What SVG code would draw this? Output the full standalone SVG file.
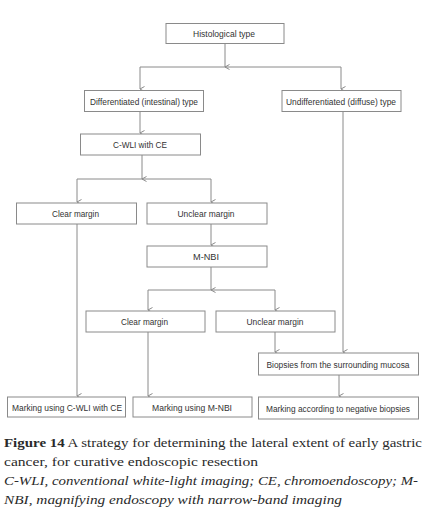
<svg xmlns="http://www.w3.org/2000/svg" width="428" height="522" viewBox="0 0 428 522">
<defs>
<style>
.box{fill:#fff;stroke:#8a8a8a;stroke-width:1}
.lbl{font-family:"Liberation Sans",Arial,sans-serif;font-size:9.5px;fill:#333;text-anchor:middle}
.sm{font-size:8.5px}
.ln{fill:none;stroke:#8a8a8a;stroke-width:1}
.cap{font-family:"Liberation Serif","Times New Roman",serif;font-size:13px;fill:#2a2a2a}
</style>
<marker id="arr" viewBox="0 0 8 8" refX="4" refY="7.5" markerWidth="8" markerHeight="8" markerUnits="userSpaceOnUse" orient="auto-start-reverse">
<polyline points="1.5,3 4,7.5 6.5,3" fill="none" stroke="#8a8a8a" stroke-width="1"/>
</marker>
</defs>
<rect width="428" height="522" fill="#fff"/>
<g id="connectors">
<line class="ln" x1="225" y1="43" x2="225" y2="67" marker-end="url(#arr)"/>
<polyline class="ln" points="140,67 341,67"/>
<line class="ln" x1="140" y1="67" x2="140" y2="89" marker-end="url(#arr)"/>
<line class="ln" x1="341" y1="67" x2="341" y2="89" marker-end="url(#arr)"/>
<line class="ln" x1="140" y1="112" x2="140" y2="133" marker-end="url(#arr)"/>
<line class="ln" x1="142" y1="155" x2="142" y2="179" marker-end="url(#arr)"/>
<polyline class="ln" points="77,179 211,179"/>
<line class="ln" x1="77" y1="179" x2="77" y2="202" marker-end="url(#arr)"/>
<line class="ln" x1="211" y1="179" x2="211" y2="202" marker-end="url(#arr)"/>
<line class="ln" x1="211" y1="224" x2="211" y2="245" marker-end="url(#arr)"/>
<line class="ln" x1="211" y1="267" x2="211" y2="290" marker-end="url(#arr)"/>
<polyline class="ln" points="148,290 275,290"/>
<line class="ln" x1="148" y1="290" x2="148" y2="310" marker-end="url(#arr)"/>
<line class="ln" x1="275" y1="290" x2="275" y2="310" marker-end="url(#arr)"/>
<line class="ln" x1="275" y1="332" x2="275" y2="352" marker-end="url(#arr)"/>
<line class="ln" x1="343" y1="112" x2="343" y2="352" marker-end="url(#arr)"/>
<line class="ln" x1="339" y1="375" x2="339" y2="396" marker-end="url(#arr)"/>
<line class="ln" x1="148" y1="332" x2="148" y2="396" marker-end="url(#arr)"/>
<line class="ln" x1="77" y1="224" x2="77" y2="396" marker-end="url(#arr)"/>
</g>
<g id="histological"><rect class="box" x="166" y="23.5" width="118" height="20"/><text class="lbl" x="224" y="37" textLength="62" lengthAdjust="spacingAndGlyphs">Histological type</text></g>
<g id="differentiated"><rect class="box" x="84.5" y="90.5" width="119" height="21"/><text class="lbl" x="144" y="104.5" textLength="108" lengthAdjust="spacingAndGlyphs">Differentiated (intestinal) type</text></g>
<g id="undifferentiated"><rect class="box" x="282" y="90.5" width="119" height="21"/><text class="lbl" x="341" y="104.5" textLength="110" lengthAdjust="spacingAndGlyphs">Undifferentiated (diffuse) type</text></g>
<g id="cwli"><rect class="box" x="80.5" y="134" width="120" height="21"/><text class="lbl" x="140" y="148" textLength="54" lengthAdjust="spacingAndGlyphs">C-WLI with CE</text></g>
<g id="clear1"><rect class="box" x="16.5" y="203" width="120" height="21"/><text class="lbl" x="75.5" y="217" textLength="47" lengthAdjust="spacingAndGlyphs">Clear margin</text></g>
<g id="unclear1"><rect class="box" x="147" y="203" width="120" height="21"/><text class="lbl" x="206" y="217" textLength="57" lengthAdjust="spacingAndGlyphs">Unclear margin</text></g>
<g id="mnbi"><rect class="box" x="147" y="246" width="120" height="21"/><text class="lbl" x="206" y="260" textLength="26" lengthAdjust="spacingAndGlyphs">M-NBI</text></g>
<g id="clear2"><rect class="box" x="86" y="311" width="119" height="21"/><text class="lbl" x="144.5" y="325" textLength="47" lengthAdjust="spacingAndGlyphs">Clear margin</text></g>
<g id="unclear2"><rect class="box" x="216" y="311" width="119" height="21"/><text class="lbl" x="275" y="325" textLength="57" lengthAdjust="spacingAndGlyphs">Unclear margin</text></g>
<g id="biopsies"><rect class="box" x="258.5" y="353" width="160" height="22"/><text class="lbl sm" x="338" y="367.5" textLength="143" lengthAdjust="spacingAndGlyphs">Biopsies from the surrounding mucosa</text></g>
<g id="mark-cwli"><rect class="box" x="7.5" y="397" width="118" height="20"/><text class="lbl" x="67" y="410.5" textLength="110" lengthAdjust="spacingAndGlyphs">Marking using C-WLI with CE</text></g>
<g id="mark-mnbi"><rect class="box" x="133" y="397" width="119" height="20"/><text class="lbl" x="192" y="410.5" textLength="80" lengthAdjust="spacingAndGlyphs">Marking using M-NBI</text></g>
<g id="mark-neg"><rect class="box" x="258.5" y="397" width="160" height="22"/><text class="lbl sm" x="338" y="411.5" textLength="144" lengthAdjust="spacingAndGlyphs">Marking according to negative biopsies</text></g>
<g id="caption">
<text class="cap" x="4" y="447" textLength="418" lengthAdjust="spacingAndGlyphs"><tspan font-weight="bold">Figure 14</tspan> A strategy for determining the lateral extent of early gastric</text>
<text class="cap" x="4" y="466" textLength="254" lengthAdjust="spacingAndGlyphs">cancer, for curative endoscopic resection</text>
<text class="cap" x="4" y="485" font-style="italic" textLength="414" lengthAdjust="spacingAndGlyphs">C-WLI, conventional white-light imaging; CE, chromoendoscopy; M-</text>
<text class="cap" x="4" y="504" font-style="italic" textLength="338" lengthAdjust="spacingAndGlyphs">NBI, magnifying endoscopy with narrow-band imaging</text>
</g>
</svg>
